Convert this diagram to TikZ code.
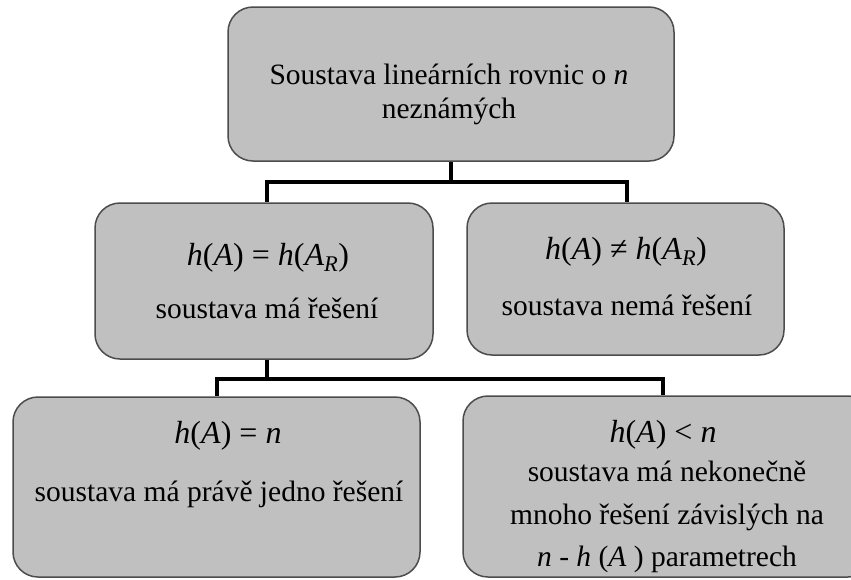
\documentclass[tikz,border=0pt]{standalone}
\usepackage{fontspec}
\setmainfont{Liberation Serif}
\begin{document}
\begin{tikzpicture}[x=1pt,y=-1pt,
  box/.style={draw=black!70, line width=1.5pt, fill=boxgray, rounded corners=25pt, inner sep=0pt},
  conn/.style={line width=4pt, draw=black},
  txt/.style={font=\fontsize{29.5}{29.5}\selectfont, inner sep=0pt, anchor=center},
  frm/.style={font=\fontsize{32}{32}\selectfont, inner sep=0pt, anchor=center}]
\definecolor{boxgray}{HTML}{C0C0C0}
\useasboundingbox (0,0) rectangle (851,579);
\clip (0,0) rectangle (851,579);
% boxes
\node[box, minimum width=446pt, minimum height=154pt] (top) at (451,84) {};
\node[box, minimum width=338pt, minimum height=156pt] (ml) at (264,281) {};
\node[box, minimum width=317pt, minimum height=152pt] (mr) at (625.5,279) {};
\node[box, minimum width=407pt, minimum height=180pt] (bl) at (216.5,487) {};
\node[box, minimum width=410pt, minimum height=181pt] (br) at (668,486.5) {};
% texts
\node[txt] (t1) at (449,74) {Soustava lineárních rovnic o \textit{n}};
\node[txt] (t2) at (449,111) {neznámých};
\node[frm] (m1) at (268,258) {\textit{h}(\textit{A}) = \textit{h}(\textit{A}\textsubscript{\textit{R}})};
\node[txt] (m2) at (267,308) {soustava má řešení};
\node[frm] (r1) at (626,252) {\textit{h}(\textit{A}) ≠ \textit{h}(\textit{A}\textsubscript{\textit{R}})};
\node[txt] (r2) at (627,305) {soustava nemá řešení};
\node[frm] (b1) at (228,436) {\textit{h}(\textit{A}) = \textit{n}};
\node[txt] (b2) at (219,494) {soustava má právě jedno řešení};
\node[frm] (c1) at (663,435) {\textit{h}(\textit{A}) < \textit{n}};
\node[txt] (c2) at (667,471) {soustava má nekonečně};
\node[txt] (c3) at (667,517) {mnoho řešení závislých na};
\node[txt] (c4) at (667,559) {\textit{n} - \textit{h} (\textit{A} ) parametrech};
% connectors
\coordinate (j1) at (451,182);
\coordinate (j2) at (267,379);
\draw[conn] (top.south) -- (j1);
\draw[conn] (ml.north -| 267,0) |- (j1) -| (mr.north -| 627,0);
\draw[conn] (ml.south -| j2) -- (j2);
\draw[conn] (bl.north -| 217,0) |- (j2) -| (br.north -| 663,0);
\end{tikzpicture}
\end{document}
